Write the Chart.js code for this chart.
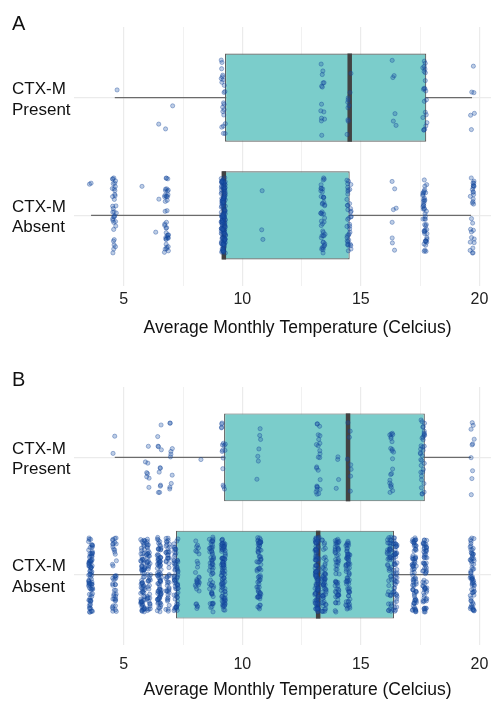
<!DOCTYPE html>
<html>
<head>
<meta charset="utf-8">
<script src="https://cdn.jsdelivr.net/npm/chart.js@4.4.1/dist/chart.umd.min.js"></script>
<style>
  html, body { margin: 0; background: #fff; overflow: hidden; font-family: "Liberation Sans", Arial, sans-serif; }
  .panel { position: absolute; left: 0; width: 491px; overflow: hidden; }
  .tag { position: absolute; left: 12px; font-size: 20px; line-height: 20px; color: #111; }
  canvas { display: block; }
</style>
</head>
<body>
<div class="panel" style="top:0;height:350px">
  <canvas id="chartA" width="524" height="350"></canvas>
  <div class="tag" style="top:13px">A</div>
</div>
<div class="panel" style="top:350px;height:351px">
  <canvas id="chartB" width="524" height="351"></canvas>
  <div class="tag" style="top:19px">B</div>
</div>
<script>
// rows: y = 1 is "Absent", y = 2 is "Present"
const xTicks = [5, 7.5, 10, 12.5, 15, 17.5, 20];
const axisTitle = 'Average Monthly Temperature (Celcius)';

// box stats: [whisker low, q1, median, q3, whisker high]
const boxAbsentA  = [3.62, 9.15, 9.22, 14.53, 19.65];
const boxPresentA = [4.62, 9.27, 14.53, 17.76, 19.69];
const boxAbsentB  = [3.62, 7.20, 13.20, 16.40, 19.60];
const boxPresentB = [4.62, 9.23, 14.46, 17.70, 19.65];

// observed temperatures and how many isolates sit at each one
const tempsPresentA  = [4.7, 6.5, 6.8, 7.0, 9.2, 13.4, 14.5, 16.4, 17.7, 19.7];
const countsPresentA = [1, 1, 1, 1, 22, 14, 10, 6, 22, 6];
const tempsAbsentA   = [3.6, 4.6, 5.8, 6.4, 6.8, 9.2, 10.8, 13.4, 14.5, 16.4, 17.7, 19.7];
const countsAbsentA  = [2, 35, 1, 2, 40, 160, 3, 45, 40, 8, 50, 30];

const tempsPresentB  = [4.6, 6.0, 6.5, 7.0, 8.3, 9.2, 10.7, 13.2, 14.0, 14.5, 16.3, 17.6, 19.7];
const countsPresentB = [2, 8, 12, 10, 1, 16, 7, 25, 4, 8, 22, 35, 10];
const tempsAbsentB   = [3.6, 4.6, 5.8, 6.05, 6.5, 6.85, 7.2, 8.1, 8.7, 9.2, 10.7, 13.15, 13.45, 14.0, 14.45, 16.2, 16.45, 17.25, 17.7, 19.7];
const countsAbsentB  = [90, 45, 80, 50, 85, 50, 70, 30, 60, 100, 70, 110, 60, 60, 70, 50, 60, 80, 70, 70];

const boxWidth = 0.75;

// deterministic display jitter (like geom_jitter), not data
function jitterSource(seed) {
  let s = seed;
  return () => { s = (s * 1664525 + 1013904223) % 4294967296; return s / 4294967296; };
}

function jitterPoints(temps, counts, row, next) {
  const pts = [];
  temps.forEach((t, i) => {
    for (let k = 0; k < counts[i]; k++) {
      pts.push({ x: t + (next() - 0.5) * 0.18, y: row + (next() - 0.5) * 0.64 });
    }
  });
  return pts;
}

function makeChart(id, boxAbsent, boxPresent, absT, absC, preT, preC, seed, lay) {
  const next = jitterSource(seed);
  const rows = [[1, boxAbsent], [2, boxPresent]];
  const datasets = [];

  rows.forEach(([y, b]) => {
    datasets.push({
      type: 'line', data: [{ x: b[0], y: y }, { x: b[4], y: y }],
      borderColor: '#6b6b6b', borderWidth: 1.3, pointRadius: 0, order: 4
    });
  });

  datasets.push({
    type: 'bar', indexAxis: 'y',
    data: rows.map(([y, b]) => ({ y: y, x: [b[1], b[3]] })),
    backgroundColor: '#7bcdcb', borderColor: '#5e5e5e', borderWidth: 1.2,
    borderSkipped: false, barPercentage: boxWidth, categoryPercentage: 1,
    grouped: false, order: 3
  });

  rows.forEach(([y, b]) => {
    datasets.push({
      type: 'line', data: [{ x: b[2], y: y - boxWidth / 2 }, { x: b[2], y: y + boxWidth / 2 }],
      borderColor: '#424242', borderWidth: 4.5, borderCapStyle: 'butt', pointRadius: 0, order: 2
    });
  });

  datasets.push({
    type: 'scatter',
    data: jitterPoints(absT, absC, 1, next).concat(jitterPoints(preT, preC, 2, next)),
    pointRadius: 2.1, pointHoverRadius: 2.1,
    backgroundColor: 'rgba(35,90,170,0.3)', borderColor: 'rgba(15,65,150,0.45)',
    borderWidth: 0.8, order: 1
  });

  return new Chart(document.getElementById(id), {
    type: 'scatter',
    data: { datasets: datasets },
    options: {
      responsive: false,
      animation: false,
      layout: { padding: { top: lay.top, left: 12, right: 0, bottom: 0 } },
      plugins: { legend: { display: false }, tooltip: { enabled: false } },
      scales: {
        x: {
          type: 'linear', min: 2.9, max: 21.76, offset: false,
          afterBuildTicks: ax => { ax.ticks = xTicks.map(v => ({ value: v })); },
          afterFit: ax => { ax.height = lay.axisH; },
          border: { display: false },
          grid: {
            drawTicks: false, offset: false, color: '#ebebeb',
            lineWidth: c => (c.tick && c.tick.value % 5 === 0) ? 1.2 : 0.7
          },
          ticks: {
            padding: lay.tickPad, color: '#222', font: { size: 16, family: 'Liberation Sans' },
            callback: v => (v % 5 === 0 ? v : '')
          },
          title: {
            display: true, text: axisTitle, color: '#111',
            font: { size: 17.5, family: 'Liberation Sans' },
            padding: { top: 0, bottom: lay.titleBottom }
          }
        },
        y: {
          type: 'linear', min: 0.4, max: 2.6, offset: false,
          afterBuildTicks: ax => { ax.ticks = [{ value: 1 }, { value: 2 }]; },
          afterFit: ax => { ax.width = 62; },
          border: { display: false },
          grid: { drawTicks: false, offset: false, color: '#ebebeb', lineWidth: 1.2 },
          ticks: {
            crossAlign: 'far', padding: 0, labelOffset: 2, color: '#111',
            font: { size: 17, family: 'Liberation Sans' },
            callback: v => (v === 2 ? ['CTX-M', 'Present'] : ['CTX-M', 'Absent'])
          }
        }
      }
    }
  });
}

makeChart('chartA', boxAbsentA, boxPresentA, tempsAbsentA, countsAbsentA, tempsPresentA, countsPresentA, 7,
  { top: 27, axisH: 64, tickPad: 3.5, titleBottom: 11.5 });
makeChart('chartB', boxAbsentB, boxPresentB, tempsAbsentB, countsAbsentB, tempsPresentB, countsPresentB, 19,
  { top: 37, axisH: 56, tickPad: 10, titleBottom: 0.5 });
</script>
</body>
</html>
